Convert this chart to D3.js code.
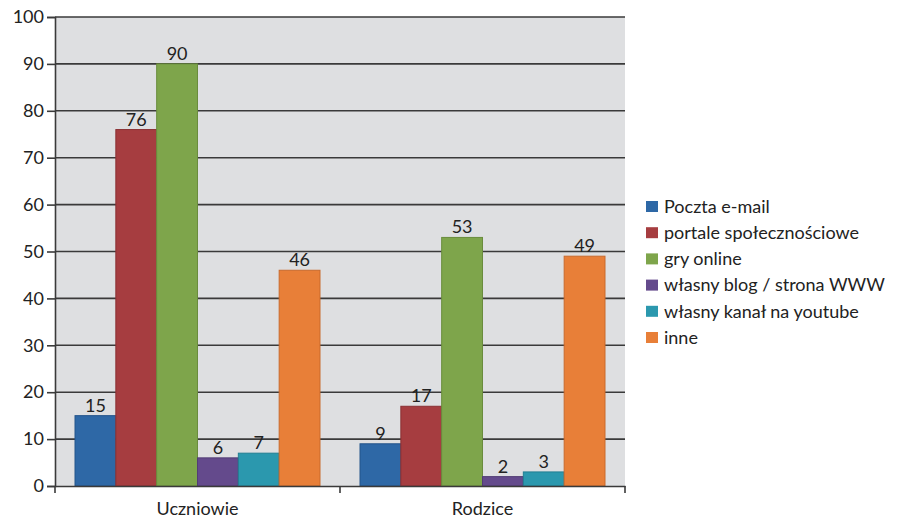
<!DOCTYPE html>
<html>
<head>
<meta charset="utf-8">
<script src="https://cdn.jsdelivr.net/npm/d3@7"></script>
<style>
  html, body { margin: 0; padding: 0; background: #fff; }
  svg { display: block; }
  text { font-family: Lato, "Open Sans", sans-serif; fill: #222; }
</style>
</head>
<body>
<svg id="chart" width="909" height="520"></svg>
<script>
// Groups along the x axis
const categories = ["Uczniowie", "Rodzice"];
// Series names (legend order)
const seriesNames = [
  "Poczta e-mail",
  "portale społecznościowe",
  "gry online",
  "własny blog / strona WWW",
  "własny kanał na youtube",
  "inne"
];
// Values per series, one entry per category
const pocztaEmail = [15, 9];
const portale     = [76, 17];
const gryOnline   = [90, 53];
const blog        = [6, 2];
const kanal       = [7, 3];
const inne        = [46, 49];
const seriesValues = [pocztaEmail, portale, gryOnline, blog, kanal, inne];
// Y axis ticks
const yTicks = [0, 10, 20, 30, 40, 50, 60, 70, 80, 90, 100];

const colors = ["#2e68a6", "#a63d40", "#7ea54b", "#644a8c", "#2b98ae", "#e87f38"];
const borders = ["#24558a", "#8a3033", "#6a8c3d", "#523c75", "#227f93", "#c96a2c"];

const FONT = 'Lato, "Open Sans", sans-serif';
const svg = d3.select("#chart");
const plot = { left: 55, right: 625, top: 17, bottom: 486 };

const x0 = d3.scaleBand().domain(categories).range([plot.left, plot.right]).padding(0);
const x1 = d3.scaleBand().domain(seriesNames).range([0, x0.bandwidth()])
  .paddingInner(0).paddingOuter(0.49);
const y = d3.scaleLinear().domain([0, 100]).range([plot.bottom, plot.top]);

// Plot background
svg.append("rect")
  .attr("x", plot.left).attr("y", plot.top)
  .attr("width", plot.right - plot.left).attr("height", plot.bottom - plot.top)
  .attr("fill", "#dedfe1");

// Horizontal gridlines
svg.append("g").selectAll("line")
  .data(yTicks.filter(d => d > 0))
  .join("line")
  .attr("x1", plot.left).attr("x2", plot.right)
  .attr("y1", d => y(d)).attr("y2", d => y(d))
  .attr("stroke", "#3a3a3a").attr("stroke-width", 1.6);

// Y axis
const yAxis = svg.append("g")
  .attr("transform", `translate(${plot.left},0)`)
  .call(d3.axisLeft(y).tickValues(yTicks).tickSize(8).tickPadding(3));
yAxis.select(".domain").attr("stroke", "#3a3a3a").attr("stroke-width", 1.6);
yAxis.selectAll(".tick line").attr("stroke", "#3a3a3a").attr("stroke-width", 1.6);
yAxis.selectAll(".tick text")
  .style("font-family", FONT)
  .style("font-size", "18px").attr("fill", "#222");

// Bars
const groups = svg.append("g").selectAll("g")
  .data(categories)
  .join("g")
  .attr("transform", d => `translate(${x0(d)},0)`);

groups.selectAll("rect")
  .data((c, ci) => seriesNames.map((s, si) => ({ s, si, v: seriesValues[si][ci] })))
  .join("rect")
  .attr("x", d => x1(d.s))
  .attr("y", d => y(d.v))
  .attr("width", x1.bandwidth())
  .attr("height", d => y(0) - y(d.v))
  .attr("fill", d => colors[d.si])
  .attr("stroke", d => borders[d.si])
  .attr("stroke-width", 1);

// Value labels
groups.selectAll("text")
  .data((c, ci) => seriesNames.map((s, si) => ({ s, si, v: seriesValues[si][ci] })))
  .join("text")
  .attr("x", d => x1(d.s) + x1.bandwidth() / 2)
  .attr("y", d => y(d.v) - 4)
  .attr("text-anchor", "middle")
  .style("font-size", "18px")
  .text(d => d.v);

// X axis
const xAxis = svg.append("g")
  .attr("transform", `translate(0,${plot.bottom})`)
  .call(d3.axisBottom(x0).tickSize(0).tickPadding(16));
xAxis.select(".domain").attr("stroke", "#3a3a3a").attr("stroke-width", 1.6);
xAxis.selectAll(".tick text")
  .style("font-family", FONT)
  .style("font-size", "18px").attr("fill", "#222");
// Category boundary ticks
svg.append("g").selectAll("line")
  .data(categories.map(c => x0(c)).concat([x0(categories[categories.length - 1]) + x0.bandwidth()]))
  .join("line")
  .attr("x1", d => d).attr("x2", d => d)
  .attr("y1", plot.bottom).attr("y2", plot.bottom + 7)
  .attr("stroke", "#3a3a3a").attr("stroke-width", 1.6);

// Legend
const legend = svg.append("g").attr("transform", "translate(646,201)");
const rows = legend.selectAll("g")
  .data(seriesNames)
  .join("g")
  .attr("transform", (d, i) => `translate(0,${i * 26.2})`);
rows.append("rect")
  .attr("width", 12).attr("height", 11)
  .attr("fill", (d, i) => colors[i]);
rows.append("text")
  .attr("x", 18).attr("y", 5.5).attr("dy", "0.35em")
  .style("font-size", "18px")
  .text(d => d);
</script>
</body>
</html>
